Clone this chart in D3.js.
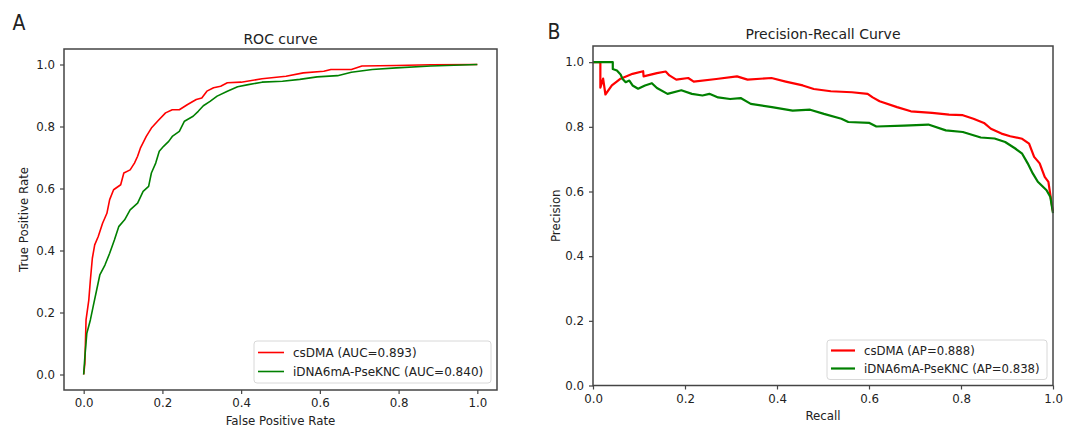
<!DOCTYPE html>
<html>
<head>
<meta charset="utf-8">
<script src="https://cdn.jsdelivr.net/npm/d3@7"></script>
<style>
  body { margin: 0; background: #fff; }
  svg text { font-family: "DejaVu Sans", sans-serif; fill: #222; }
  .panel-letter { font-family: "DejaVu Sans Condensed", "Liberation Sans Narrow", sans-serif; }
</style>
</head>
<body>
<div id="chart"></div>
<script>
// ROC curve points [fpr, tpr]
var rocCsDMA = [[0,0],[0.003,0.036],[0.006,0.176],[0.013,0.24],[0.017,0.305],[0.022,0.375],[0.028,0.418],
  [0.037,0.445],[0.048,0.488],[0.059,0.52],[0.066,0.564],[0.076,0.596],[0.094,0.612],[0.102,0.65],
  [0.118,0.66],[0.129,0.682],[0.137,0.704],[0.144,0.73],[0.159,0.768],[0.172,0.795],[0.19,0.82],
  [0.208,0.844],[0.225,0.854],[0.243,0.854],[0.264,0.871],[0.286,0.887],[0.3,0.892],[0.313,0.914],
  [0.33,0.925],[0.348,0.93],[0.365,0.941],[0.4,0.943],[0.453,0.954],[0.514,0.962],[0.558,0.973],
  [0.61,0.978],[0.628,0.984],[0.68,0.984],[0.707,0.995],[0.794,0.997],[0.882,0.999],[1,1]];
var rocIDNA = [[0,0],[0.003,0.057],[0.008,0.133],[0.017,0.176],[0.024,0.219],[0.032,0.267],[0.041,0.321],
  [0.054,0.353],[0.066,0.391],[0.078,0.434],[0.089,0.477],[0.104,0.499],[0.118,0.531],[0.137,0.553],
  [0.151,0.591],[0.165,0.607],[0.172,0.65],[0.183,0.682],[0.192,0.72],[0.203,0.736],[0.216,0.752],
  [0.225,0.768],[0.243,0.784],[0.256,0.817],[0.278,0.833],[0.291,0.849],[0.304,0.867],[0.321,0.881],
  [0.339,0.898],[0.365,0.914],[0.391,0.928],[0.418,0.935],[0.453,0.943],[0.505,0.946],[0.549,0.952],
  [0.593,0.96],[0.645,0.964],[0.68,0.975],[0.733,0.984],[0.794,0.989],[0.882,0.995],[1,1]];

// Precision-recall points [recall, precision]
var prCsDMA = [[0,1],[0.016,1],[0.016,0.921],[0.022,0.949],[0.027,0.9],[0.041,0.928],[0.06,0.949],
  [0.086,0.964],[0.109,0.972],[0.11,0.956],[0.139,0.966],[0.158,0.971],[0.166,0.959],[0.181,0.946],
  [0.207,0.951],[0.219,0.94],[0.268,0.948],[0.313,0.956],[0.336,0.946],[0.388,0.951],[0.419,0.94],
  [0.456,0.928],[0.48,0.917],[0.517,0.91],[0.563,0.907],[0.597,0.902],[0.608,0.891],[0.623,0.879],
  [0.661,0.861],[0.691,0.848],[0.737,0.843],[0.774,0.838],[0.804,0.836],[0.827,0.825],[0.85,0.812],
  [0.865,0.794],[0.888,0.779],[0.907,0.771],[0.933,0.763],[0.948,0.748],[0.959,0.707],[0.971,0.687],
  [0.982,0.645],[0.99,0.63],[0.997,0.563],[1,0.538]];
var prIDNA = [[0,1],[0.043,1],[0.043,0.979],[0.052,0.974],[0.06,0.962],[0.064,0.949],[0.071,0.938],
  [0.079,0.943],[0.086,0.928],[0.098,0.918],[0.113,0.928],[0.128,0.935],[0.139,0.92],[0.162,0.902],
  [0.192,0.913],[0.215,0.902],[0.238,0.897],[0.253,0.902],[0.272,0.891],[0.298,0.886],[0.321,0.889],
  [0.343,0.871],[0.389,0.861],[0.434,0.85],[0.472,0.853],[0.502,0.84],[0.54,0.825],[0.555,0.815],
  [0.601,0.812],[0.616,0.801],[0.676,0.804],[0.729,0.807],[0.767,0.789],[0.804,0.784],[0.843,0.767],
  [0.873,0.764],[0.896,0.753],[0.918,0.733],[0.933,0.717],[0.945,0.687],[0.956,0.656],[0.967,0.63],
  [0.986,0.604],[0.994,0.584],[1,0.533]];

var tickValues = [0, 0.2, 0.4, 0.6, 0.8, 1.0];
var rocLegend = ["csDMA (AUC=0.893)", "iDNA6mA-PseKNC (AUC=0.840)"];
var prLegend = ["csDMA (AP=0.888)", "iDNA6mA-PseKNC (AP=0.838)"];
var colors = ["#ff0000", "#008000"];

var svg = d3.select("#chart").append("svg")
  .attr("width", 1073)
  .attr("height", 429);

function drawPanel(opt) {
  var x = d3.scaleLinear().domain(opt.xDomain).range([opt.left, opt.right]);
  var y = d3.scaleLinear().domain(opt.yDomain).range([opt.bottom, opt.top]);
  var g = svg.append("g");

  var line = d3.line().x(d => x(d[0])).y(d => y(d[1]));
  opt.series.forEach(function(s, i) {
    g.append("path")
      .attr("d", line(s))
      .attr("fill", "none")
      .attr("stroke", colors[i])
      .attr("stroke-width", opt.lineWidth)
      .attr("stroke-linejoin", "round");
  });

  // axes
  var xAxis = d3.axisBottom(x).tickValues(tickValues).tickFormat(d3.format(".1f")).tickSizeOuter(0).tickSize(4).tickPadding(5);
  var yAxis = d3.axisLeft(y).tickValues(tickValues).tickFormat(d3.format(".1f")).tickSizeOuter(0).tickSize(4).tickPadding(5);
  var ax = g.append("g").attr("transform", "translate(0," + opt.bottom + ")").call(xAxis);
  var ay = g.append("g").attr("transform", "translate(" + opt.left + ",0)").call(yAxis);
  [ax, ay].forEach(function(a) {
    a.select(".domain").remove();
    a.selectAll("line").attr("stroke", "#444").attr("stroke-width", 1.2);
    a.selectAll("text").style("font-size", "11.8px").attr("fill", "#222");
  });

  // frame
  g.append("rect")
    .attr("x", opt.left).attr("y", opt.top)
    .attr("width", opt.right - opt.left).attr("height", opt.bottom - opt.top)
    .attr("fill", "none").attr("stroke", "#444").attr("stroke-width", 1.5);

  // titles
  g.append("text").attr("x", (opt.left + opt.right) / 2).attr("y", opt.titleY)
    .attr("text-anchor", "middle").attr("dominant-baseline", "central")
    .style("font-size", "14px").text(opt.title);
  g.append("text").attr("x", (opt.left + opt.right) / 2).attr("y", opt.xLabelY)
    .attr("text-anchor", "middle").attr("dominant-baseline", "central")
    .style("font-size", "11.8px").text(opt.xLabel);
  g.append("text")
    .attr("transform", "translate(" + opt.yLabelX + "," + ((opt.top + opt.bottom) / 2) + ") rotate(-90)")
    .attr("text-anchor", "middle").attr("dominant-baseline", "central")
    .style("font-size", "11.8px").text(opt.yLabel);
  g.append("text").attr("class", "panel-letter")
    .attr("x", opt.letterX).attr("y", opt.letterY)
    .attr("text-anchor", "middle").attr("dominant-baseline", "central")
    .style("font-size", "21px").text(opt.letter);

  // legend
  var lg = opt.legend;
  g.append("rect")
    .attr("x", lg.x0).attr("y", lg.y0)
    .attr("width", lg.x1 - lg.x0).attr("height", lg.y1 - lg.y0)
    .attr("rx", 3).attr("fill", "#fff").attr("fill-opacity", 0.8)
    .attr("stroke", "#d8d8d8").attr("stroke-width", 1);
  lg.labels.forEach(function(t, i) {
    var yy = lg.rowY[i];
    g.append("line").attr("x1", lg.lineX0).attr("x2", lg.lineX1)
      .attr("y1", yy).attr("y2", yy)
      .attr("stroke", colors[i]).attr("stroke-width", opt.lineWidth);
    g.append("text").attr("x", lg.textX).attr("y", yy)
      .attr("dominant-baseline", "central")
      .style("font-size", lg.fontSize).text(t);
  });
}

drawPanel({
  left: 64, right: 497, top: 49, bottom: 390,
  xDomain: [-0.05, 1.05], yDomain: [-0.05, 1.05],
  series: [rocCsDMA, rocIDNA], lineWidth: 1.6,
  title: "ROC curve", titleY: 38.5,
  xLabel: "False Positive Rate", xLabelY: 421,
  yLabel: "True Positive Rate", yLabelX: 24,
  letter: "A", letterX: 19, letterY: 23,
  legend: { x0: 254, x1: 491, y0: 341, y1: 383, lineX0: 258, lineX1: 284, textX: 293,
            rowY: [352.5, 371.5], labels: rocLegend, fontSize: "12px" }
});

drawPanel({
  left: 593, right: 1053, top: 46, bottom: 385.5,
  xDomain: [0, 1], yDomain: [0, 1.05],
  series: [prCsDMA, prIDNA], lineWidth: 2.2,
  title: "Precision-Recall Curve", titleY: 33.5,
  xLabel: "Recall", xLabelY: 416,
  yLabel: "Precision", yLabelX: 556,
  letter: "B", letterX: 554, letterY: 31.5,
  legend: { x0: 827, x1: 1047, y0: 340, y1: 379.5, lineX0: 831, lineX1: 855, textX: 864,
            rowY: [350.5, 368.5], labels: prLegend, fontSize: "11.7px" }
});
</script>
</body>
</html>
